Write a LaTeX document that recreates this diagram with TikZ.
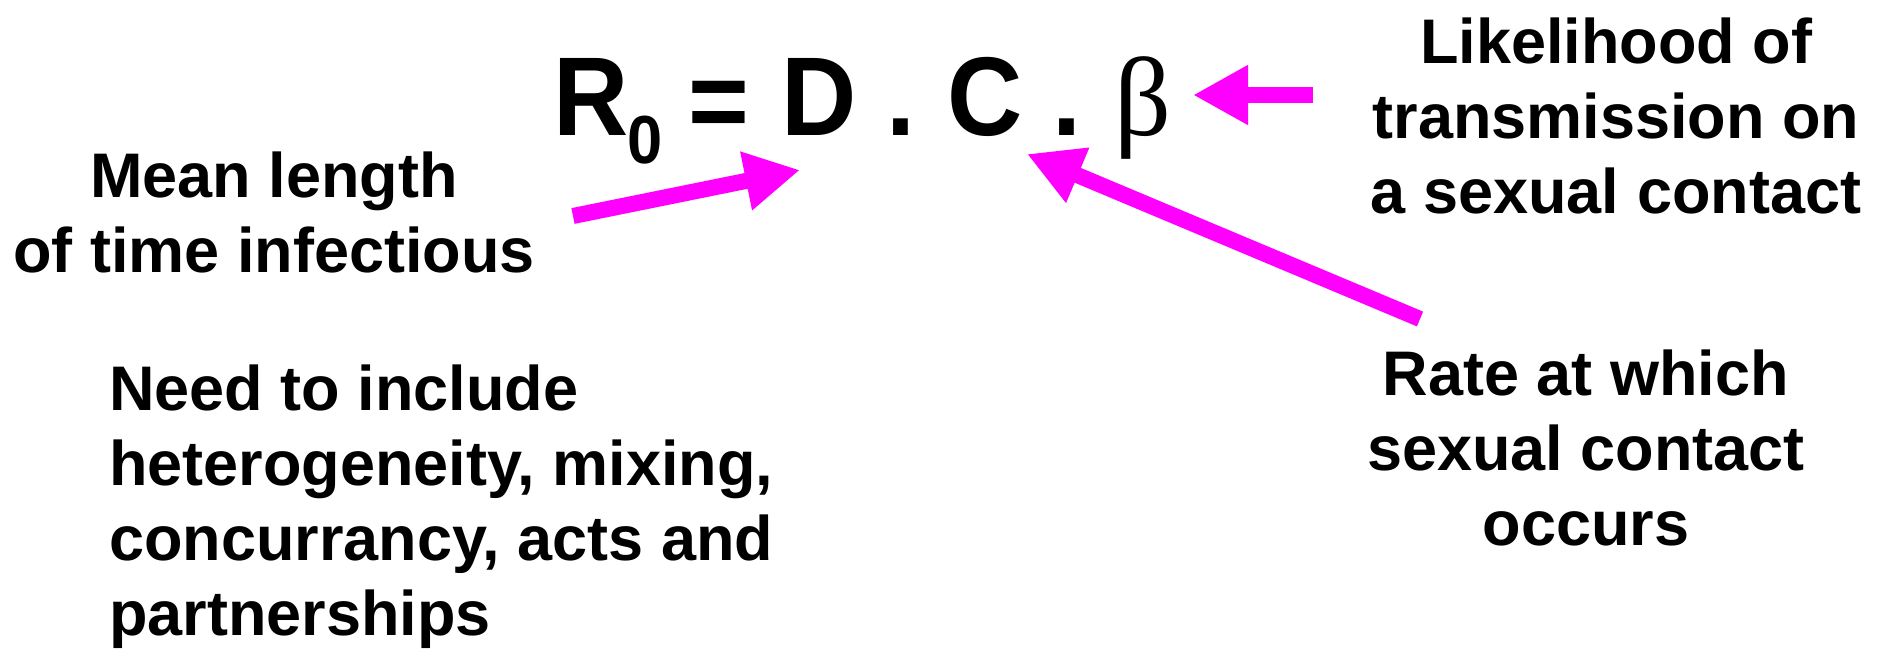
\documentclass[tikz,border=0pt]{standalone}
\usepackage{fontspec}
\setmainfont{Liberation Sans}
\newfontfamily\condfont[FakeStretch=0.93]{Liberation Sans}
\newfontfamily\betafont{Liberation Serif}
\usetikzlibrary{arrows.meta}
\definecolor{mag}{RGB}{255,0,255}
\tikzset{
  lbl/.style={inner sep=0pt, font=\fontsize{63}{75}\selectfont\bfseries},
  big/.style={inner sep=0pt, font=\fontsize{112}{120}\selectfont\condfont\bfseries, anchor=base},
  arr/.style={mag, line width=16pt, -{Triangle[length=55pt,width=56pt]}}
}
\begin{document}
\begin{tikzpicture}[x=1pt,y=-1pt]
\useasboundingbox[fill=white] (0,0) rectangle (1887,648);
% formula
\node[big] (R) at (591,135) {R};
\node[inner sep=0pt, font=\fontsize{68}{70}\selectfont\condfont\bfseries, anchor=base] (sub) at (645,163) {0};
\node[big, anchor=center] (eq) at (719,110) {=};
\node[big] (D) at (819,135) {D};
\node[big] (dot1) at (901,135) {.};
\node[big] (C) at (985,135) {C};
\node[big] (dot2) at (1067,135) {.};
\node[inner sep=0pt, font=\fontsize{112}{120}\selectfont\betafont, anchor=base] (beta) at (1143,135) {β};
% labels (base = baseline of last line)
\node[lbl, align=center, anchor=base] (lik) at (1616,213) {Likelihood of\\transmission on\\a sexual contact};
\node[lbl, align=center, anchor=base] (mean) at (274,272) {Mean length\\of time infectious};
\node[lbl, align=center, anchor=base] (rate) at (1586,545) {Rate at which\\sexual contact\\occurs};
\node[lbl, align=left, anchor=base west] (need) at (109,635) {Need to include\\heterogeneity, mixing,\\concurrancy, acts and\\partnerships};
% arrow endpoints
\coordinate (bt) at (1313,95);
\coordinate (bh) at (1193,95);
\coordinate (dt) at (573,216);
\coordinate (dh) at (800,170);
\coordinate (ct) at (1420,319);
\coordinate (ch) at (1027,154);
\draw[arr] (bt) -- (bh);
\draw[arr] (dt) -- (dh);
\draw[arr] (ct) -- (ch);
\end{tikzpicture}
\end{document}
